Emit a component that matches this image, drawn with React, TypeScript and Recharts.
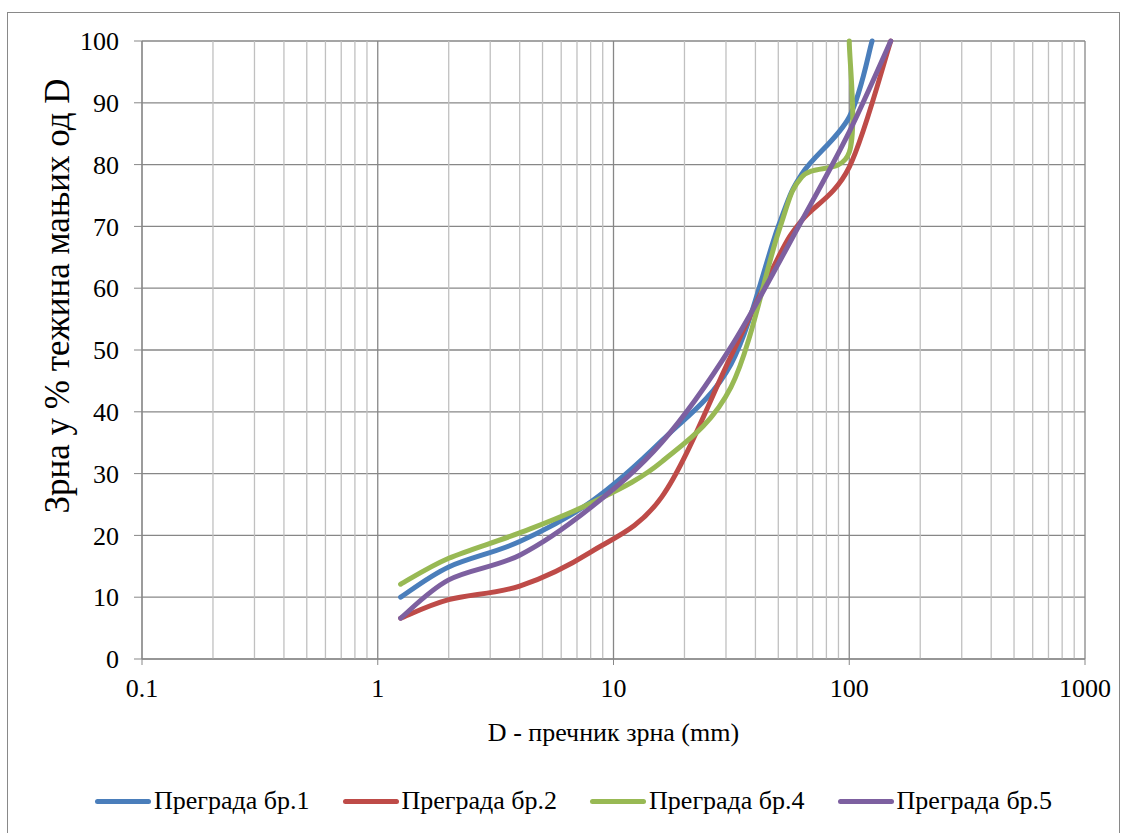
import React from 'react';
import { LineChart, Line, XAxis, YAxis, CartesianGrid, ReferenceLine, Legend, Label } from 'recharts';

// ---- data ----
const xTicks = [0.1, 1, 10, 100, 1000];
const yTicks = [0, 10, 20, 30, 40, 50, 60, 70, 80, 90, 100];
const minorX = [
  0.2, 0.3, 0.4, 0.5, 0.6, 0.7, 0.8, 0.9,
  2, 3, 4, 5, 6, 7, 8, 9,
  20, 30, 40, 50, 60, 70, 80, 90,
  200, 300, 400, 500, 600, 700, 800, 900,
];

const seriesNames = ['Преграда бр.1', 'Преграда бр.2', 'Преграда бр.4', 'Преграда бр.5'];
const seriesColors = ['#4A7EBB', '#BE4B48', '#98B954', '#7D60A0'];

const d1 = [1.25, 2, 4, 8, 16, 31.5, 50, 63, 100, 125];
const v1 = [10, 14.9, 19, 25.4, 35.3, 47.7, 70, 78.5, 87.7, 100];

const d2 = [1.25, 2, 4, 8, 16, 31.5, 50, 63, 100, 150];
const v2 = [6.6, 9.6, 11.8, 17.3, 26.2, 49, 65, 71, 79.6, 100];

const d4 = [1.25, 2, 4, 8, 16, 31.5, 50, 63, 100, 100];
const v4 = [12.1, 16.3, 20.4, 25.2, 31.9, 44, 69, 78, 82, 100];

const d5 = [1.25, 2, 4, 8, 16, 31.5, 63, 100, 150];
const v5 = [6.6, 12.8, 16.8, 24.5, 35, 50.5, 71, 85.3, 100];

const xTitle = 'D - пречник зрна (mm)';
const yTitle = 'Зрна у % тежина мањих од D';

const toRows = (ds: number[], vs: number[]) => ds.map((d, i) => ({ d, v: vs[i] }));
const seriesData = [toRows(d1, v1), toRows(d2, v2), toRows(d4, v4), toRows(d5, v5)];

// Excel-like smoothing (uniform Catmull-Rom as cubic Bezier)
const excelSmooth: any = (context: any) => {
  let pts: number[][] = [];
  return {
    areaStart() {},
    areaEnd() {},
    lineStart() {
      pts = [];
    },
    point(x: number, y: number) {
      pts.push([+x, +y]);
    },
    lineEnd() {
      const n = pts.length;
      if (!n) return;
      context.moveTo(pts[0][0], pts[0][1]);
      for (let i = 0; i < n - 1; i++) {
        const p0 = pts[Math.max(i - 1, 0)];
        const p1 = pts[i];
        const p2 = pts[i + 1];
        const p3 = pts[Math.min(i + 2, n - 1)];
        context.bezierCurveTo(
          p1[0] + (p2[0] - p0[0]) / 6,
          p1[1] + (p2[1] - p0[1]) / 6,
          p2[0] - (p3[0] - p1[0]) / 6,
          p2[1] - (p3[1] - p1[1]) / 6,
          p2[0],
          p2[1]
        );
      }
    },
  };
};

const FONT = "'Liberation Serif', Tinos, 'Times New Roman', Times, 'DejaVu Serif', 'Noto Serif', serif";
const AXIS = '#878787';
const MINOR = '#C0C0C0';

const LegendContent = () => (
  <div style={{ display: 'flex', alignItems: 'center', fontFamily: FONT, fontSize: 26, color: '#000', whiteSpace: 'nowrap' }}>
    {seriesNames.map((name, i) => (
      <div key={name} style={{ display: 'flex', alignItems: 'center', marginRight: 33 }}>
        <div style={{ width: 56, height: 5, borderRadius: 3, background: seriesColors[i], marginRight: 3 }} />
        <span style={{ lineHeight: '28px' }}>{name}</span>
      </div>
    ))}
  </div>
);

const YTitle = (props: any) => {
  const vb = props.viewBox || { x: 82, y: 41, width: 60, height: 618 };
  const cx = vb.x - 25;
  const cy = vb.y + vb.height / 2 - 54;
  return (
    <text
      x={cx}
      y={cy}
      transform={`rotate(-90 ${cx} ${cy})`}
      textAnchor="middle"
      dominantBaseline="central"
      style={{ fontFamily: FONT }}
      fontSize={35}
      fill="#000"
    >
      {yTitle}
    </text>
  );
};

export default function App() {
  return (
    <div style={{ position: 'absolute', left: 0, top: 0, width: 1128, height: 833, overflow: 'hidden', background: '#fff', fontFamily: FONT }}>
      <div
        style={{
          position: 'absolute',
          left: 7,
          top: 12,
          width: 1113,
          height: 830,
          border: '1px solid #898989',
          boxSizing: 'border-box',
        }}
      />
      <div style={{ position: 'absolute', left: 0, top: 0 }}>
        <LineChart
          width={1128}
          height={833}
          margin={{ top: 41, right: 43, bottom: 84, left: 82 }}
          style={{ fontFamily: FONT }}
        >
          <CartesianGrid stroke={AXIS} strokeWidth={1.3} vertical={false} />
          {minorX.map((m) => (
            <ReferenceLine key={`m${m}`} x={m} stroke={MINOR} strokeWidth={1.3} />
          ))}
          {xTicks.map((t) => (
            <ReferenceLine key={`M${t}`} x={t} stroke={AXIS} strokeWidth={1.3} />
          ))}
          <XAxis
            dataKey="d"
            type="number"
            scale="log"
            domain={[0.1, 1000]}
            ticks={xTicks}
            interval={0}
            allowDataOverflow
            height={90}
            tickSize={6}
            tickMargin={14}
            stroke={AXIS}
            tick={{ fill: '#000', fontSize: 26, style: { fontFamily: FONT } }}
            tickFormatter={(v: number) => String(v)}
          >
            <Label value={xTitle} position="insideBottom" offset={8} fill="#000" fontSize={26} style={{ fontFamily: FONT }} />
          </XAxis>
          <YAxis
            type="number"
            domain={[0, 100]}
            ticks={yTicks}
            interval={0}
            width={60}
            tickSize={8}
            tickMargin={15}
            stroke={AXIS}
            tick={{ fill: '#000', fontSize: 26, style: { fontFamily: FONT } }}
          >
            <Label content={<YTitle />} />
          </YAxis>
          <Legend
            layout="horizontal"
            verticalAlign="middle"
            align="center"
            wrapperStyle={{ position: 'absolute', left: 95, top: 787, width: 1000, height: 28 }}
            content={<LegendContent />}
          />
          {seriesData.map((rows, i) => (
            <Line
              key={seriesNames[i]}
              data={rows}
              dataKey="v"
              name={seriesNames[i]}
              type={excelSmooth}
              stroke={seriesColors[i]}
              strokeWidth={5}
              strokeLinecap="round"
              dot={false}
              activeDot={false}
              isAnimationActive={false}
            />
          ))}
        </LineChart>
      </div>
    </div>
  );
}
